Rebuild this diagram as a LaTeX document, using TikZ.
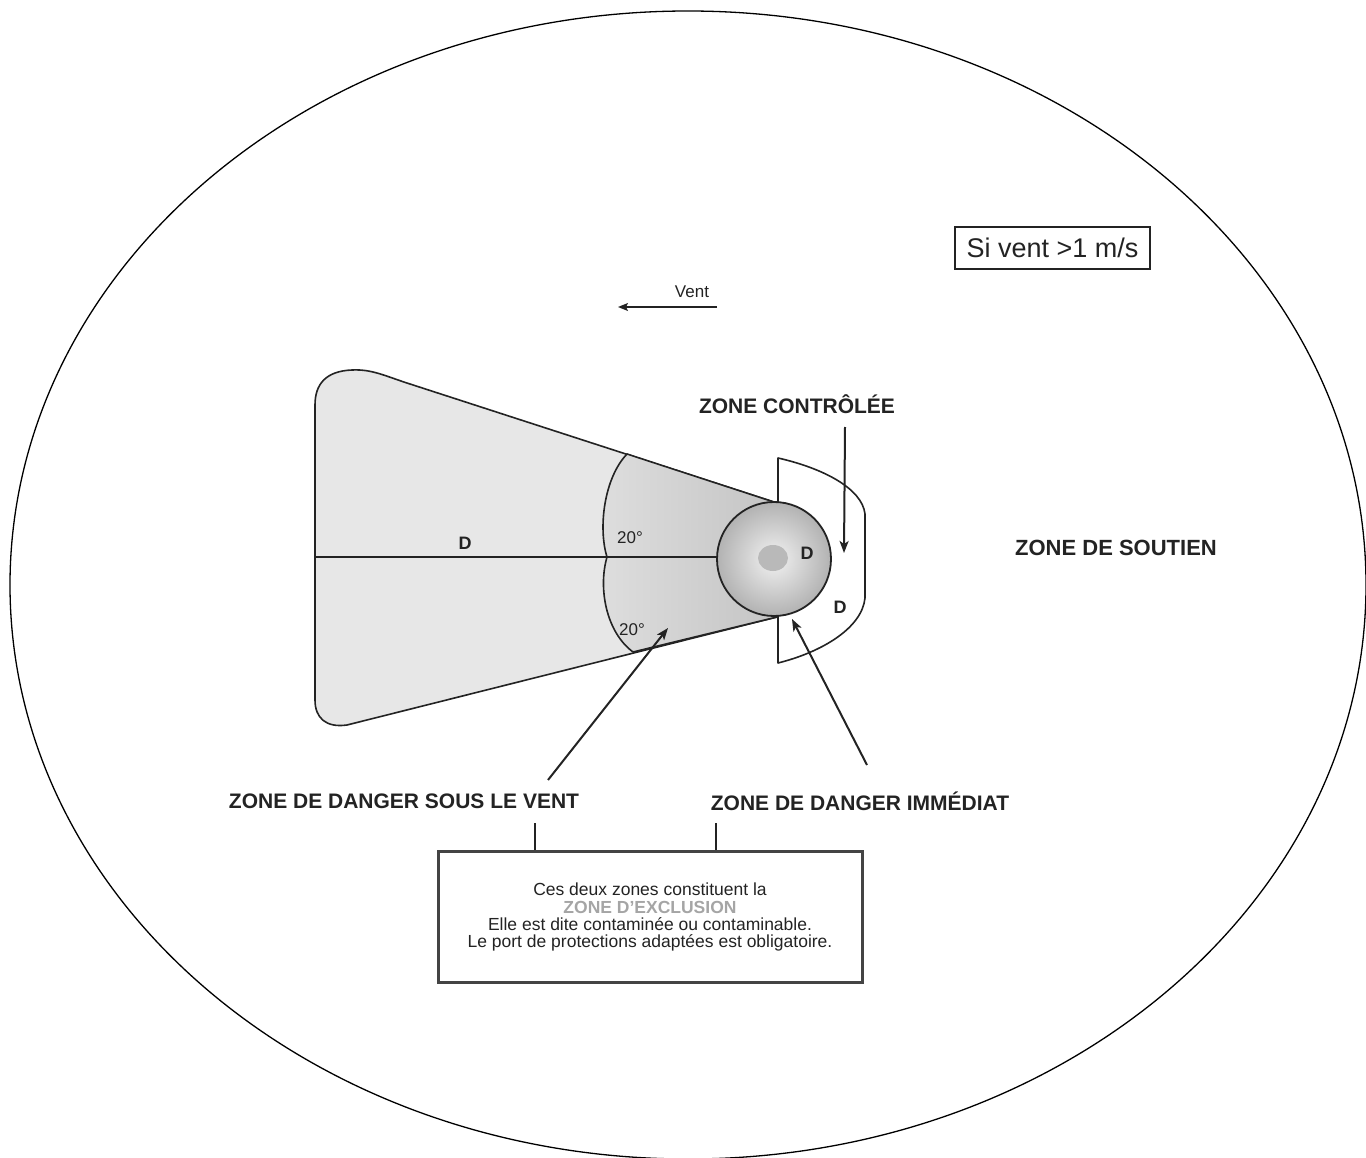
\documentclass[tikz,border=0pt]{standalone}
\usepackage{fontspec}
\setmainfont{Liberation Sans}
\usetikzlibrary{arrows.meta, positioning, calc, shapes.geometric}
\definecolor{inkDark}{RGB}{35, 35, 35}
\definecolor{wedgeGray}{RGB}{231, 231, 231}
\definecolor{plumeLight}{RGB}{222, 222, 222}
\definecolor{plumeDark}{RGB}{196, 196, 196}
\definecolor{coreLight}{RGB}{242, 242, 242}
\definecolor{coreDark}{RGB}{178, 178, 178}
\definecolor{spotGray}{RGB}{185, 185, 185}
\definecolor{exclGray}{RGB}{165, 165, 165}
\tikzset{
  zonelabel/.style={
    inner sep=0pt, text=inkDark,
    font=\fontsize{21}{25}\selectfont\bfseries
  },
  smalllabel/.style={
    inner sep=0pt, text=inkDark,
    font=\fontsize{17}{20}\selectfont
  },
  dlabel/.style={
    inner sep=0pt, text=inkDark,
    font=\fontsize{18}{21}\selectfont\bfseries
  },
  zonearrow/.style={
    -{Stealth[length=12pt,width=9pt,inset=3pt]},
    line width=2pt, draw=inkDark
  },
  outline/.style={
    draw=inkDark, line width=1.6pt, line join=round
  }
}

\begin{document}
\begin{tikzpicture}[x=1pt, y=-1pt,
  notebox/.style={rectangle, draw=inkDark!85, line width=3pt,
                  minimum width=424pt, minimum height=131pt, align=center,
                  text=inkDark, font=\fontsize{17.5}{17}\selectfont},
  windbox/.style={rectangle, draw=inkDark, line width=1.4pt,
                  minimum width=195pt, minimum height=42pt, inner sep=0pt,
                  text=inkDark, font=\fontsize{27}{30}\selectfont},
  windarrow/.style={-{Stealth[length=10pt,width=8pt,inset=2pt]},
                    line width=1.3pt, draw=inkDark}
]
  \useasboundingbox (0,0) rectangle (1366,1158);

  % Outer limit (support zone)
  \begin{scope}
    \clip (0,0) rectangle (1366,1158);
    \draw[line width=1.3pt] (688,585) ellipse [x radius=678, y radius=574];
  \end{scope}

  % Controlled zone, behind the source
  \draw[outline, fill=white]
    (778,502) -- (778,458) .. controls (822,468) and (862,488) .. (865,514)
    -- (865,598) .. controls (862,628) and (822,652) .. (778,663) -- (778,616);

  % Downwind wedge
  \draw[outline, fill=wedgeGray]
    (777,503) -- (410,384) .. controls (385,376) and (372,369) .. (352,370)
    .. controls (326,371) and (315,384) .. (315,405) -- (315,700)
    .. controls (315,718) and (326,728) .. (347,725) -- (777,617) -- cycle;

  % Darker sector between the 20° arcs and the source
  \draw[outline, left color=plumeLight, right color=plumeDark]
    (627,454) -- (777,503) -- (777,617) -- (633,652)
    .. controls (606,632) and (598,588) .. (607,557)
    .. controls (598,528) and (604,478) .. (627,454) -- cycle;

  % Source (immediate danger zone)
  \node[circle, minimum size=114pt, inner sep=0pt, draw=inkDark,
        line width=1.8pt, inner color=coreLight, outer color=coreDark]
    (danger) at (774,559) {};
  \node[ellipse, minimum width=30pt, minimum height=26pt, inner sep=0pt,
        fill=spotGray] (spot) at (773,558) {};

  % Centre line
  \coordinate (axisStart) at (315,557);
  \draw[line width=1.3pt, inkDark] (axisStart) -- (axisStart -| danger.west);

  % Distances and angles
  \node[dlabel] (dFar) at (465,543) {D};
  \node[dlabel] (dCore) at (807,553) {D};
  \node[dlabel] (dCtrl) at (840,607) {D};
  \node[smalllabel] (angUp) at (630,538) {20°};
  \node[smalllabel] (angLow) at (632,630) {20°};

  % Wind
  \node[windbox] (cond) at (1052.5,248) {Si vent >1 m/s};
  \node[smalllabel] (windTxt) at (692,292) {Vent};
  \coordinate (windFrom) at (717,307);
  \coordinate (windTo) at (618,307);
  \draw[windarrow] (windFrom) -- (windTo);

  % Zone names
  \node[zonelabel] (lblCtrl) at (797,404) {ZONE CONTRÔLÉE};
  \node[zonelabel, font=\fontsize{22}{26}\selectfont\bfseries]
    (lblSoutien) at (1116,548) {ZONE DE SOUTIEN};
  \node[zonelabel] (lblDownwind) at (404,801) {ZONE DE DANGER SOUS LE VENT};
  \node[zonelabel] (lblImm) at (860,801) {ZONE DE DANGER IMMÉDIAT};

  % Pointers
  \coordinate (ctrlFrom) at (845,427);
  \coordinate (ctrlTo) at (844,553);
  \draw[zonearrow] (ctrlFrom) -- (ctrlTo);
  \coordinate (downFrom) at (548,780);
  \coordinate (downTo) at (668,628);
  \draw[zonearrow] (downFrom) -- (downTo);
  \coordinate (immFrom) at (867,765);
  \coordinate (immTo) at (792,619);
  \draw[zonearrow] (immFrom) -- (immTo);

  % Exclusion zone note
  \node[notebox] (excl) at (650,916.5)
    {Ces deux zones constituent la\\[1pt]
     {\bfseries\color{exclGray}ZONE D'EXCLUSION}\\
     Elle est dite contaminée ou contaminable.\\
     Le port de protections adaptées est obligatoire.};
  \coordinate (downDrop) at (535,823);
  \coordinate (immDrop) at (716,823);
  \draw[line width=2pt, inkDark] (downDrop) -- (downDrop |- excl.north);
  \draw[line width=2pt, inkDark] (immDrop) -- (immDrop |- excl.north);

\end{tikzpicture}
\end{document}
